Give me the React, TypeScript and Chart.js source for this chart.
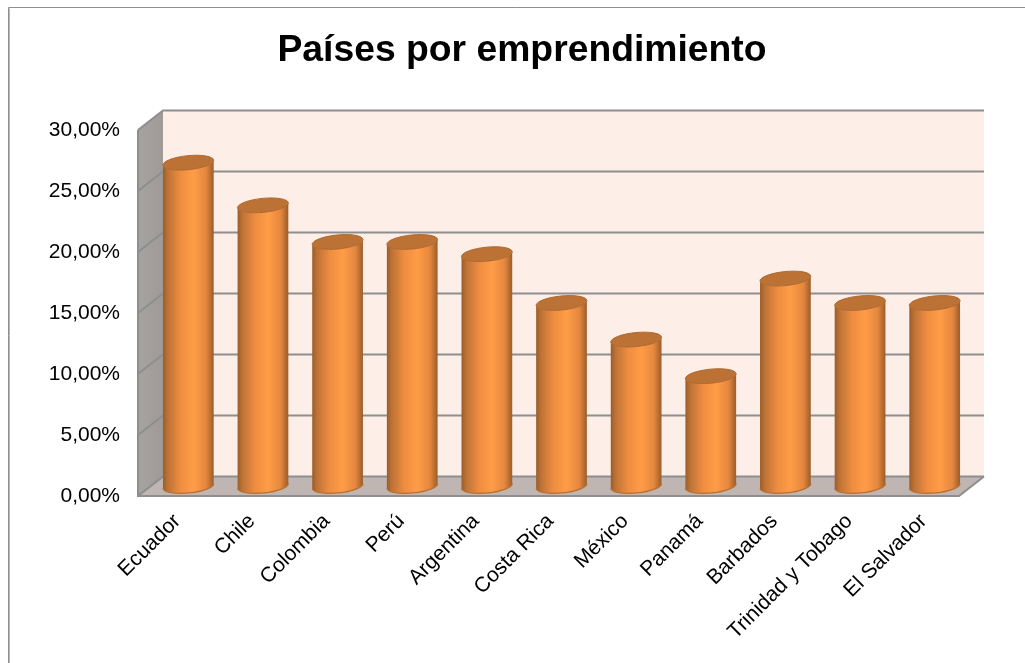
import React, { useEffect, useRef } from "react";
import { Chart, registerables } from "chart.js";

Chart.register(...registerables);

const categories = ["Ecuador", "Chile", "Colombia", "Perú", "Argentina", "Costa Rica", "México", "Panamá", "Barbados", "Trinidad y Tobago", "El Salvador"];
const shares = [26.5, 23, 20, 20, 19, 15, 12, 9, 17, 15, 15];
const chartTitle = "Países por emprendimiento";

const WALL_DX = 25;
const WALL_DY = 19.5;
const BAR_DX = 13;
const BAR_DY = 10;

const titleShift = {
  id: "titleShift",
  afterLayout(chart: any) {
    // centre the title on x = 522, as in the picture
    if (chart.titleBlock) {
      chart.titleBlock.left = 85;
      chart.titleBlock.right = 959;
    }
  },
};

const walls3d = {
  id: "walls3d",
  beforeDraw(chart: any) {
    const { ctx, chartArea: a, scales } = chart;
    const y = scales.y;
    ctx.save();
    ctx.fillStyle = "#ffffff";
    ctx.fillRect(0, 0, chart.width, chart.height);
    // outer frame
    ctx.strokeStyle = "#8f8f8f";
    ctx.lineWidth = 1;
    ctx.beginPath();
    ctx.moveTo(8.5, chart.height);
    ctx.lineTo(8.5, 7.5);
    ctx.lineTo(chart.width, 7.5);
    ctx.stroke();
    ctx.strokeStyle = "#b5b5b5";
    ctx.beginPath();
    ctx.moveTo(9.5, chart.height);
    ctx.lineTo(9.5, 8.5);
    ctx.stroke();

    const l = a.left, r = a.right, t = a.top, b = a.bottom;
    // back wall
    ctx.fillStyle = "#FDEEE7";
    ctx.fillRect(l + WALL_DX, t - WALL_DY, r - l, b - t);
    // left wall
    const lg = ctx.createLinearGradient(l, 0, l + WALL_DX, 0);
    lg.addColorStop(0, "#a5a3a1");
    lg.addColorStop(1, "#a09a97");
    ctx.fillStyle = lg;
    ctx.beginPath();
    ctx.moveTo(l, t);
    ctx.lineTo(l + WALL_DX, t - WALL_DY);
    ctx.lineTo(l + WALL_DX, b - WALL_DY);
    ctx.lineTo(l, b);
    ctx.closePath();
    ctx.fill();
    // floor
    ctx.fillStyle = "#BFB5B2";
    ctx.beginPath();
    ctx.moveTo(l, b);
    ctx.lineTo(l + WALL_DX, b - WALL_DY);
    ctx.lineTo(r + WALL_DX, b - WALL_DY);
    ctx.lineTo(r, b);
    ctx.closePath();
    ctx.fill();
    // grid lines across the walls, one per tick
    ctx.strokeStyle = "#8e8e8e";
    ctx.lineWidth = 2;
    for (const tick of y.ticks) {
      const py = y.getPixelForValue(tick.value);
      ctx.beginPath();
      ctx.moveTo(l, py);
      ctx.lineTo(l + WALL_DX, py - WALL_DY);
      ctx.lineTo(r + WALL_DX, py - WALL_DY);
      ctx.stroke();
    }
    // axes at the front
    ctx.beginPath();
    ctx.moveTo(l, t);
    ctx.lineTo(l, b);
    ctx.lineTo(r, b);
    ctx.lineTo(r + WALL_DX, b - WALL_DY);
    ctx.stroke();
    ctx.restore();
  },
};

const cylinders = {
  id: "cylinders",
  beforeDatasetsDraw(chart: any) {
    const { ctx } = chart;
    const bars = chart.getDatasetMeta(0).data;
    ctx.save();
    for (const bar of bars) {
      const cx = bar.x + BAR_DX;
      const rx = bar.width / 2;
      const ry = 7;
      const tilt = -0.1;
      const top = bar.y - BAR_DY;
      const base = bar.base - BAR_DY;
      const g = ctx.createLinearGradient(cx - rx, 0, cx + rx, 0);
      g.addColorStop(0, "#9A5C2A");
      g.addColorStop(0.1, "#BE7336");
      g.addColorStop(0.35, "#EF8D41");
      g.addColorStop(0.6, "#FF9C47");
      g.addColorStop(0.85, "#E4873E");
      g.addColorStop(1, "#9A5C2A");
      ctx.fillStyle = g;
      ctx.beginPath();
      ctx.ellipse(cx, base, rx, ry, tilt, 0, Math.PI);
      ctx.ellipse(cx, top, rx, ry, tilt, Math.PI, 0, true);
      ctx.closePath();
      ctx.fill();
      // lower rim
      ctx.strokeStyle = "#B8702F";
      ctx.lineWidth = 1.2;
      ctx.beginPath();
      ctx.ellipse(cx, base, rx, ry, tilt, 0, Math.PI);
      ctx.stroke();
      // top cap
      ctx.fillStyle = "#BC7135";
      ctx.strokeStyle = "#B0682E";
      ctx.lineWidth = 1;
      ctx.beginPath();
      ctx.ellipse(cx, top, rx, ry, tilt, 0, Math.PI * 2);
      ctx.fill();
      ctx.stroke();
    }
    ctx.restore();
    return false;
  },
};

export default function App() {
  const ref = useRef<HTMLCanvasElement | null>(null);
  useEffect(() => {
    document.body.style.margin = "0";
    document.body.style.overflow = "hidden";
    const font = { family: '"Liberation Sans", Arial, sans-serif', size: 21 };
    const chart = new Chart(ref.current as HTMLCanvasElement, {
      type: "bar",
      data: {
        labels: categories,
        datasets: [{ data: shares, backgroundColor: "#F79646", borderWidth: 0, barPercentage: 0.683, categoryPercentage: 1 }],
      },
      plugins: [titleShift, walls3d, cylinders],
      options: {
        responsive: false,
        animation: false,
        layout: { padding: { left: 20, right: 66, top: 0, bottom: 0 } },
        plugins: {
          legend: { display: false },
          tooltip: { enabled: false },
          title: {
            display: true,
            text: chartTitle,
            color: "#000000",
            font: { family: font.family, size: 37.3, weight: "bold" },
            padding: { top: 28.5, bottom: 56.7 },
          },
        },
        scales: {
          x: {
            grid: { display: false, drawTicks: false },
            border: { display: false },
            ticks: { color: "#000000", font, maxRotation: 45, minRotation: 45, autoSkip: false, padding: 13, labelOffset: 2 },
            afterFit(s: any) { s.height = 663 - 496; },
          },
          y: {
            min: 0,
            max: 30,
            grid: { display: false, drawTicks: false },
            border: { display: false },
            ticks: {
              stepSize: 5,
              color: "#000000",
              font,
              padding: 18,
              callback: (v: any) => Number(v).toFixed(2).replace(".", ",") + "%",
            },
            afterFit(s: any) { s.width = 118; },
          },
        },
      } as any,
    });
    return () => chart.destroy();
  }, []);
  return <canvas ref={ref} width={1025} height={663} style={{ display: "block", position: "absolute", left: 0, top: 0 }} />;
}
